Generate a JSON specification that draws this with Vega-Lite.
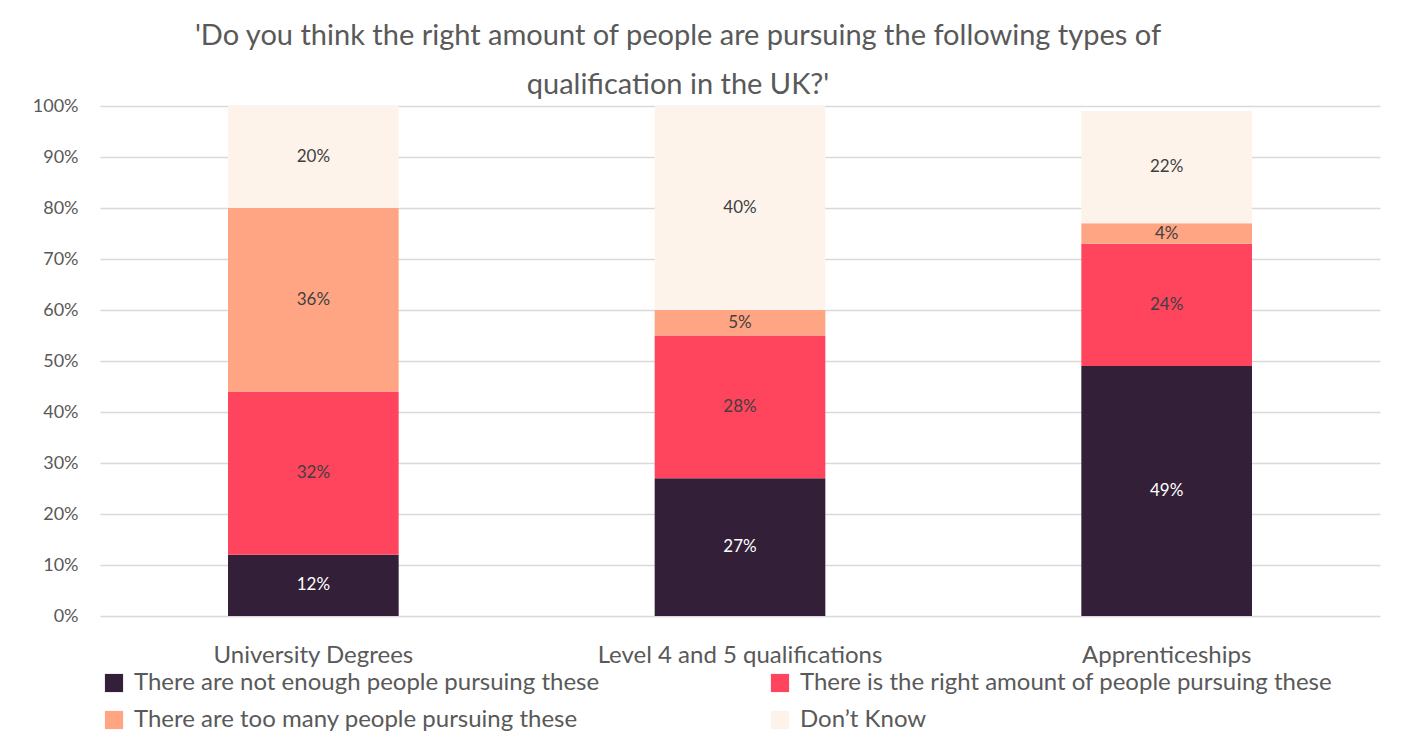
{
  "$schema": "https://vega.github.io/schema/vega-lite/v6.json",
  "width": 1280,
  "height": 510,
  "autosize": {"type": "none"},
  "padding": {"left": 100, "top": 106, "right": 33, "bottom": 121},
  "background": "#ffffff",
  "config": {"view": {"stroke": null}},
  "title": {
    "text": ["'Do you think the right amount of people are pursuing the following types of", "qualification in the UK?'"],
    "anchor": "middle",
    "frame": "group",
    "dx": -62,
    "offset": -3,
    "font": "Lato",
    "fontSize": 29,
    "fontWeight": "normal",
    "color": "#595959",
    "lineHeight": 49
  },
  "data": {
    "values": [
      {"qual": "University Degrees", "resp": "There are not enough people pursuing these", "value": 12},
      {"qual": "University Degrees", "resp": "There is the right amount of people pursuing these", "value": 32},
      {"qual": "University Degrees", "resp": "There are too many people pursuing these", "value": 36},
      {"qual": "University Degrees", "resp": "Don’t Know", "value": 20},
      {"qual": "Level 4 and 5 qualifications", "resp": "There are not enough people pursuing these", "value": 27},
      {"qual": "Level 4 and 5 qualifications", "resp": "There is the right amount of people pursuing these", "value": 28},
      {"qual": "Level 4 and 5 qualifications", "resp": "There are too many people pursuing these", "value": 5},
      {"qual": "Level 4 and 5 qualifications", "resp": "Don’t Know", "value": 40},
      {"qual": "Apprenticeships", "resp": "There are not enough people pursuing these", "value": 49},
      {"qual": "Apprenticeships", "resp": "There is the right amount of people pursuing these", "value": 24},
      {"qual": "Apprenticeships", "resp": "There are too many people pursuing these", "value": 4},
      {"qual": "Apprenticeships", "resp": "Don’t Know", "value": 22}
    ]
  },
  "transform": [
    {"calculate": "indexof(['There are not enough people pursuing these','There is the right amount of people pursuing these','There are too many people pursuing these','Don’t Know'], datum.resp)", "as": "ord"},
    {"stack": "value", "groupby": ["qual"], "sort": [{"field": "ord", "order": "ascending"}], "as": ["v0", "v1"]},
    {"calculate": "(datum.v0 + datum.v1) / 2", "as": "mid"}
  ],
  "encoding": {
    "x": {
      "field": "qual",
      "type": "nominal",
      "sort": ["University Degrees", "Level 4 and 5 qualifications", "Apprenticeships"],
      "scale": {"paddingInner": 0.6, "paddingOuter": 0.3},
      "axis": {
        "title": null,
        "labelAngle": 0,
        "labelFont": "Lato",
        "labelFontSize": 24,
        "labelColor": "#595959",
        "labelPadding": 27,
        "ticks": false,
        "domain": false,
        "labelLimit": 400
      }
    }
  },
  "layer": [
    {
      "mark": {"type": "bar"},
      "encoding": {
        "y": {
          "field": "v0",
          "type": "quantitative",
          "scale": {"domain": [0, 100], "nice": false},
          "axis": {
            "title": null,
            "values": [0, 10, 20, 30, 40, 50, 60, 70, 80, 90, 100],
            "labelExpr": "datum.value + '%'",
            "labelFont": "Lato",
            "labelFontSize": 18,
            "labelColor": "#595959",
            "labelPadding": 22,
            "ticks": false,
            "domain": false,
            "gridColor": "#d9d9d9",
            "gridWidth": 1.5
          }
        },
        "y2": {"field": "v1"},
        "color": {
          "field": "resp",
          "type": "nominal",
          "scale": {
            "domain": ["There are not enough people pursuing these", "There are too many people pursuing these", "There is the right amount of people pursuing these", "Don’t Know"],
            "range": ["#331F38", "#FFA584", "#FF445E", "#FDF3EA"]
          },
          "legend": {
            "title": null,
            "orient": "none",
            "legendX": 2,
            "legendY": 565,
            "columns": 2,
            "columnPadding": 168,
            "rowPadding": 13,
            "symbolType": "square",
            "symbolSize": 330,
            "symbolStrokeWidth": 0,
            "labelFont": "Lato",
            "labelFontSize": 24,
            "labelColor": "#595959",
            "labelOffset": 8,
            "labelLimit": 700
          }
        }
      }
    },
    {
      "mark": {"type": "text", "font": "Lato", "fontSize": 17, "text": {"expr": "datum.value + '%'"}},
      "encoding": {
        "y": {"field": "mid", "type": "quantitative"},
        "color": {
          "condition": {"test": "datum.resp === 'There are not enough people pursuing these'", "value": "#ffffff"},
          "value": "#404040"
        }
      }
    }
  ]
}
